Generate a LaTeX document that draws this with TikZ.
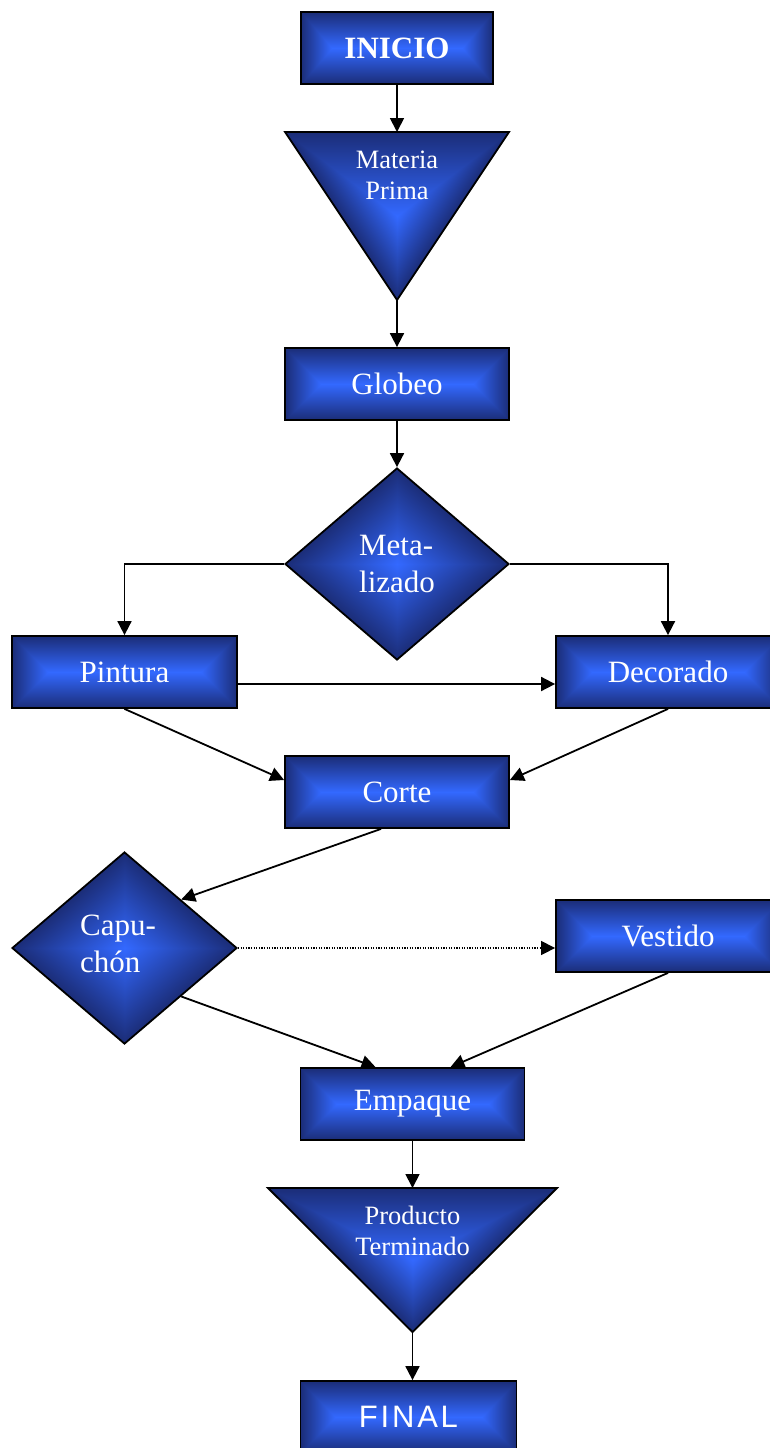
\documentclass[tikz,border=0pt]{standalone}
\usepackage{fontspec}
\setmainfont{Liberation Serif}
\newfontfamily\finalfont[LetterSpace=9]{Liberation Sans}
\usetikzlibrary{shapes.geometric,arrows.meta}

% The path's bounding box corresponds to the square of half side 25bp
% rectangular "from centre" gradient (tuned for 224x72 boxes)
\pgfdeclarefunctionalshading{rectshade}{\pgfpoint{-50bp}{-50bp}}{\pgfpoint{50bp}{50bp}}{}{
abs 0.04 mul exch abs 0.12444 mul 2.111 sub 2 copy lt {exch} if pop
dup 1 gt {pop 1} if dup 0 lt {pop 0} if
dup dup -0.094 mul 0.2 add 3 1 roll -0.234 mul 0.41 add exch -0.53 mul 1 add}

% diamond gradient
\pgfdeclarefunctionalshading{diamshade}{\pgfpoint{-50bp}{-50bp}}{\pgfpoint{50bp}{50bp}}{}{
abs exch abs add 25 div
dup 1 gt {pop 1} if dup 0 lt {pop 0} if
dup dup -0.094 mul 0.2 add 3 1 roll -0.234 mul 0.41 add exch -0.53 mul 1 add}

% downward triangle gradient
\pgfdeclarefunctionalshading{trishade}{\pgfpoint{-50bp}{-50bp}}{\pgfpoint{50bp}{50bp}}{}{
2 copy exch abs 2 mul exch sub 2 copy lt {exch} if pop exch pop 25 div
dup 1 gt {pop 1} if dup 0 lt {pop 0} if
dup dup -0.094 mul 0.2 add 3 1 roll -0.234 mul 0.41 add exch -0.53 mul 1 add}

\tikzset{
  box/.style={draw=black, line width=1.8pt, shade, shading=rectshade,
    minimum width=224pt, minimum height=72pt, inner sep=0pt, text=white,
    font=\fontsize{31}{36}\selectfont},
  dia/.style={shape=diamond, draw=black, line width=1.8pt, shade, shading=diamshade,
    minimum width=224pt, minimum height=192pt, inner sep=0pt, text=white,
    align=left, font=\fontsize{31}{37}\selectfont},
  tri/.style={draw=black, line width=1.8pt, shade, shading=trishade},
  tritext/.style={text=white, align=center, inner sep=0pt,
    font=\fontsize{26.5}{31}\selectfont},
  arr/.style={line width=1.8pt, -{Triangle[length=14pt,width=14pt]}},
  dotarr/.style={line width=1.3pt, dash pattern=on 1.3pt off 1.3pt,
    -{Triangle[length=14pt,width=14pt]}},
}

\begin{document}
\begin{tikzpicture}[x=1pt,y=-1pt]
\useasboundingbox (0,0) rectangle (770,1448);
\clip (0,0) rectangle (770,1448);

% INICIO
\node[box, minimum width=192pt, font=\bfseries\fontsize{31}{36}\selectfont] (inicio) at (397,48) {INICIO};

% Materia Prima triangle
\coordinate (mptl) at (285,132);
\coordinate (mptr) at (509,132);
\coordinate (mpapex) at (397,300);
\coordinate (mptop) at (397,132);
\path[tri] (mptl) -- (mptr) -- (mpapex) -- cycle;
\node[tritext] (mp) at (397,175) {Materia\\Prima};

% Globeo
\node[box] (globeo) at (397,384) {Globeo};

% Metalizado
\node[dia] (meta) at (397,564) {Meta-\\lizado};

% Pintura / Decorado
\node[box, minimum width=225pt] (pintura) at (124.5,672) {Pintura};
\node[box] (decorado) at (668,672) {Decorado};

% Corte
\node[box] (corte) at (397,792) {Corte};

% Capuchon
\node[dia, minimum width=225pt] (cap) at (124.5,948) {};
\node[text=white, align=left, inner sep=0pt, font=\fontsize{31}{37}\selectfont] (captext) at (118,944) {Capu-\\chón};

% Vestido
\node[box] (vestido) at (668,936) {Vestido};

% Empaque
\node[box] (emp) at (412.5,1104) {Empaque};

% Producto Terminado triangle
\coordinate (pttl) at (268,1188);
\coordinate (pttr) at (557,1188);
\coordinate (ptapex) at (412.5,1332);
\coordinate (pttop) at (412.5,1188);
\path[tri] (pttl) -- (pttr) -- (ptapex) -- cycle;
\node[tritext] (pt) at (412.5,1231) {Producto\\Terminado};

% FINAL
\node[box, minimum width=216pt, font=\finalfont\fontsize{31}{36}\selectfont] (final) at (408.5,1417) {FINAL};

% connectors
\draw[arr] (inicio.south) -- (mptop);
\draw[arr] (mpapex) -- (globeo.north);
\draw[arr] (globeo.south) -- (meta.north);
\draw[arr] (meta.west) -| (pintura.north);
\draw[arr] (meta.east) -| (decorado.north);
\draw[arr] ([yshift=-12pt]pintura.east) -- ([yshift=-12pt]decorado.west);
\draw[arr] (pintura.south) -- ([yshift=12pt]corte.west);
\draw[arr] (decorado.south) -- ([yshift=12pt]corte.east);
\draw[arr] ([xshift=-16pt]corte.south) -- (cap.north east);
\draw[dotarr] (cap.east) -- ([yshift=-12pt]vestido.west);
\draw[arr] (cap.south east) -- ([xshift=-37pt]emp.north);
\draw[arr] (vestido.south) -- ([xshift=38pt]emp.north);
\draw[arr] (emp.south) -- (pttop);
\draw[arr] (ptapex) -- (ptapex |- final.north);
\end{tikzpicture}
\end{document}
